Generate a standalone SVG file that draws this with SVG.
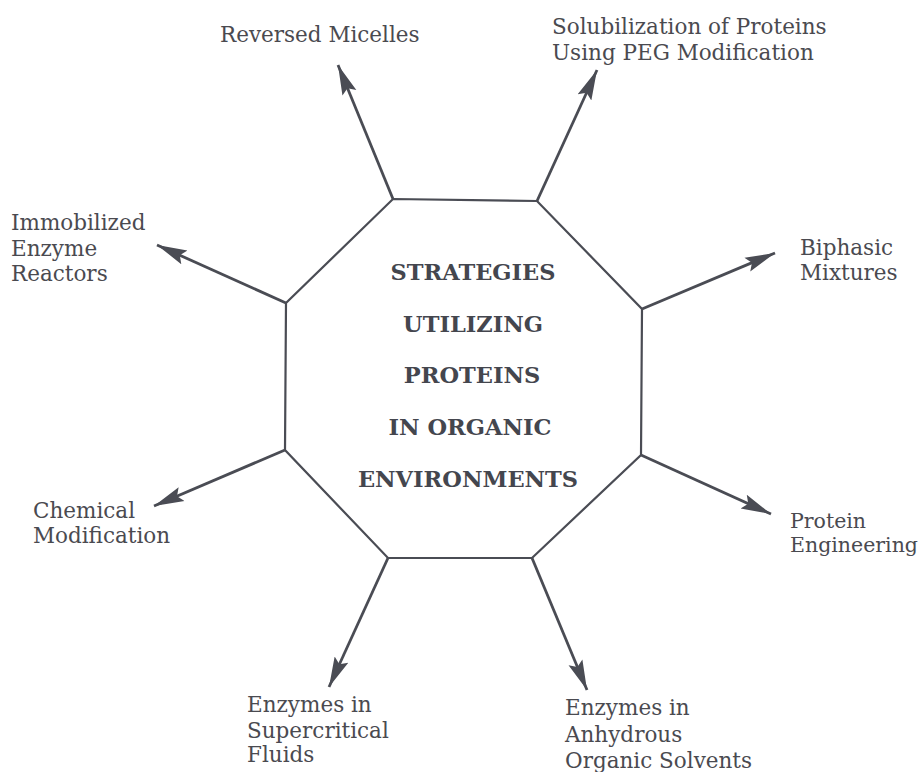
<svg xmlns="http://www.w3.org/2000/svg" width="922" height="772" viewBox="0 0 922 772">
  <style>
    .edge { fill: none; stroke: #4a4c54; stroke-width: 2.2; stroke-linejoin: miter; }
    .arrow { fill: none; stroke: #4a4c54; stroke-width: 2.8; }
    .label { font-family: "DejaVu Serif", "Liberation Serif", serif; font-size: 21.5px; fill: #4a4a50; }
    .label.tight { font-size: 20.5px; }
    .title { font-family: "DejaVu Serif", "Liberation Serif", serif; font-size: 22.5px; font-weight: bold; fill: #44464e; text-anchor: middle; }
  </style>
  <defs>
    <marker id="head" markerUnits="userSpaceOnUse" markerWidth="32" markerHeight="18" refX="30" refY="9" orient="auto">
      <path d="M0,1.5 L30,9 L0,16.5 L5,9 Z" fill="#4a4c54"/>
    </marker>
  </defs>
  <rect width="922" height="772" fill="#ffffff"/>

  <!-- central octagon -->
  <g id="center">
    <polygon class="edge" points="393,199 537,201 642,309 641,455 532,558 388,558 285,450 286,303"/>
    <text class="title" x="473" y="280">STRATEGIES</text>
    <text class="title" x="473" y="332">UTILIZING</text>
    <text class="title" x="472" y="383">PROTEINS</text>
    <text class="title" x="470" y="435">IN ORGANIC</text>
    <text class="title" x="468" y="487">ENVIRONMENTS</text>
  </g>

  <!-- connectors from the octagon corners -->
  <g id="connectors">
    <line class="arrow" x1="393" y1="199" x2="338" y2="65" marker-end="url(#head)"/>
    <line class="arrow" x1="537" y1="201" x2="597" y2="70" marker-end="url(#head)"/>
    <line class="arrow" x1="286" y1="303" x2="157" y2="245" marker-end="url(#head)"/>
    <line class="arrow" x1="642" y1="309" x2="775" y2="253" marker-end="url(#head)"/>
    <line class="arrow" x1="285" y1="450" x2="154" y2="506" marker-end="url(#head)"/>
    <line class="arrow" x1="641" y1="455" x2="771" y2="514" marker-end="url(#head)"/>
    <line class="arrow" x1="388" y1="558" x2="329" y2="687" marker-end="url(#head)"/>
    <line class="arrow" x1="532" y1="558" x2="587" y2="690" marker-end="url(#head)"/>
  </g>

  <g id="reversed-micelles">
    <text class="label" x="220" y="42">Reversed Micelles</text>
  </g>
  <g id="peg-solubilization">
    <text class="label" x="552" y="34">Solubilization of Proteins</text>
    <text class="label" x="552" y="60">Using PEG Modification</text>
  </g>
  <g id="immobilized-reactors">
    <text class="label" x="11" y="230">Immobilized</text>
    <text class="label" x="11" y="256">Enzyme</text>
    <text class="label" x="11" y="281">Reactors</text>
  </g>
  <g id="biphasic-mixtures">
    <text class="label" x="800" y="255">Biphasic</text>
    <text class="label" x="800" y="280">Mixtures</text>
  </g>
  <g id="chemical-modification">
    <text class="label" x="33" y="518">Chemical</text>
    <text class="label" x="33" y="543">Modification</text>
  </g>
  <g id="protein-engineering">
    <text class="label tight" x="790" y="528">Protein</text>
    <text class="label tight" x="790" y="552">Engineering</text>
  </g>
  <g id="supercritical-fluids">
    <text class="label" x="247" y="712">Enzymes in</text>
    <text class="label" x="247" y="738">Supercritical</text>
    <text class="label" x="247" y="762">Fluids</text>
  </g>
  <g id="anhydrous-solvents">
    <text class="label" x="565" y="715">Enzymes in</text>
    <text class="label" x="565" y="742">Anhydrous</text>
    <text class="label" x="565" y="768">Organic Solvents</text>
  </g>
</svg>
